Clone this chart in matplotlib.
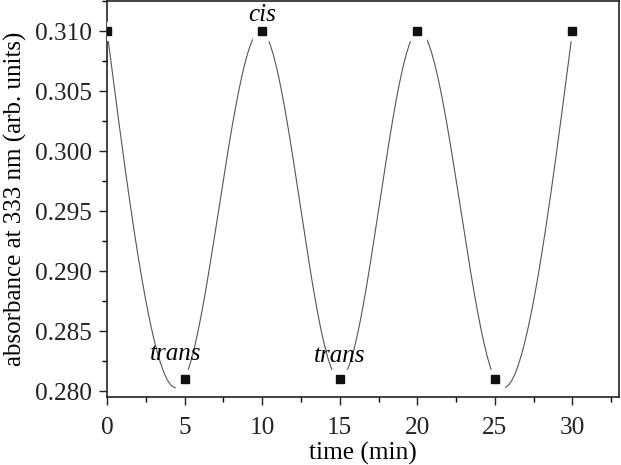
import numpy as np
import matplotlib
matplotlib.use("Agg")
import matplotlib.pyplot as plt
from matplotlib.ticker import MultipleLocator, FormatStrFormatter

time_min = [0, 5, 10, 15, 20, 25, 30]
absorbance = [0.310, 0.281, 0.310, 0.281, 0.310, 0.281, 0.310]
labels = ["cis", "trans", "trans"]
label_x = [10, 4.4, 15]
label_y = [0.3113, 0.2831, 0.2829]


def natural_spline(x, y, xs):
    x = np.asarray(x, float); y = np.asarray(y, float)
    n = len(x)
    h = np.diff(x)
    A = np.zeros((n, n)); b = np.zeros(n)
    A[0, 0] = 1; A[-1, -1] = 1
    for i in range(1, n - 1):
        A[i, i - 1] = h[i - 1]; A[i, i] = 2 * (h[i - 1] + h[i]); A[i, i + 1] = h[i]
        b[i] = 6 * ((y[i + 1] - y[i]) / h[i] - (y[i] - y[i - 1]) / h[i - 1])
    M = np.linalg.solve(A, b)
    idx = np.clip(np.searchsorted(x, xs) - 1, 0, n - 2)
    x0 = x[idx]; x1 = x[idx + 1]; hh = x1 - x0
    t0 = x1 - xs; t1 = xs - x0
    return (M[idx] * t0**3 / (6 * hh) + M[idx + 1] * t1**3 / (6 * hh)
            + (y[idx] / hh - M[idx] * hh / 6) * t0 + (y[idx + 1] / hh - M[idx + 1] * hh / 6) * t1)


plt.rcParams['font.family'] = ['Liberation Serif', 'DejaVu Serif']

fig = plt.figure(figsize=(6.21, 4.65), dpi=100)
ax = fig.add_axes([0.1723, 0.1462, 0.8245, 0.8516])

xs = np.linspace(min(time_min), max(time_min), 600)
ax.plot(xs, natural_spline(time_min, absorbance, xs), color='#555555', lw=0.8, zorder=2)
ax.plot(time_min, absorbance, 's', color='white', ms=13, mec='white', zorder=3)
ax.plot(time_min, absorbance, 's', color='#111111', ms=6.2, mec='#111111', zorder=4)

for t, lx, ly in zip(labels, label_x, label_y):
    ax.text(lx, ly, t, style='italic', fontsize=18, ha='center', va='center', zorder=5)

ax.set_xlim(0, 33)
ax.set_ylim(0.2795, 0.3125)
ax.xaxis.set_major_locator(MultipleLocator(5))
ax.xaxis.set_minor_locator(MultipleLocator(2.5))
ax.yaxis.set_major_locator(MultipleLocator(0.005))
ax.yaxis.set_minor_locator(MultipleLocator(0.0025))
ax.yaxis.set_major_formatter(FormatStrFormatter('%.3f'))
ax.tick_params(which='major', direction='out', length=5.8, width=1, labelsize=18.2,
               colors='#222222')
ax.tick_params(which='minor', direction='out', length=3.8, width=1)
ax.tick_params(axis='x', which='major', pad=8.5)
ax.tick_params(axis='y', which='major', pad=5)
for s in ax.spines.values():
    s.set_linewidth(1.2)
    s.set_color('#222222')
ax.set_xlabel('time (min)', fontsize=18.3, labelpad=2.5)
ax.set_ylabel('absorbance at 333 nm (arb. units)', fontsize=18, labelpad=6)

fig.savefig('out.png', dpi=100)
